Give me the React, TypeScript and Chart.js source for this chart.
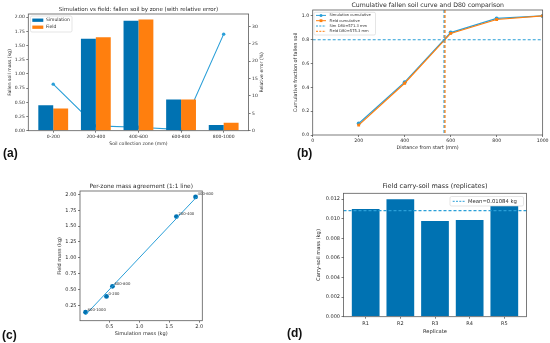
import { useEffect, useRef } from "react";
import { Chart, registerables } from "chart.js";

Chart.register(...registerables);

const W = 550;
const H = 343;
const FAMILY = "'DejaVu Sans', 'Liberation Sans', sans-serif";
const TEXT = "#2b2b2b";
const AXIS = "#5a5a5a";
const BAR_BLUE = "#0072B2";
const ORANGE = "#FF7F0E";
const LINE_BLUE = "#2A9FD8";

// ---------- (a) fallen soil by zone ----------
const zones = ["0-200", "200-400", "400-600", "600-800", "800-1000"];
const simMass = [0.45, 1.62, 1.94, 0.55, 0.1];
const fieldMass = [0.39, 1.65, 1.96, 0.55, 0.14];
const relErrorPct = [13.4, 1.4, 1.0, 0.3, 27.8];
const aMassTicks = [0, 0.25, 0.5, 0.75, 1.0, 1.25, 1.5, 1.75, 2.0];
const aErrTicks = [0, 5, 10, 15, 20, 25, 30];
const aLegend = ["Simulation", "Field"];

// ---------- (b) cumulative curve ----------
const distanceMm = [200, 400, 600, 800, 1000];
const simCumulative = [0.097, 0.444, 0.86, 0.979, 1.0];
const fieldCumulative = [0.083, 0.435, 0.853, 0.97, 1.0];
const simD80 = 571.3;
const fieldD80 = 575.3;
const d80Level = 0.8;
const bXTicks = [0, 200, 400, 600, 800, 1000];
const bYTicks = [0, 0.2, 0.4, 0.6, 0.8, 1.0];
const bLegend = ["Simulation cumulative", "Field cumulative", "Sim D80=571.3 mm", "Field D80=575.3 mm"];

// ---------- (c) 1:1 agreement ----------
const oneToOne = [0.1, 1.96];
const cXTicks = [0.5, 1.0, 1.5, 2.0];
const cYTicks = [0.25, 0.5, 0.75, 1.0, 1.25, 1.5, 1.75, 2.0];

// ---------- (d) replicates ----------
const replicates = ["R1", "R2", "R3", "R4", "R5"];
const carryMass = [0.011, 0.012, 0.00978, 0.00988, 0.01132];
const carryMean = 0.01084;
const dYTicks = [0, 0.002, 0.004, 0.006, 0.008, 0.01, 0.012];
const dLegend = ["Mean=0.01084 kg"];

type Area = { l: number; t: number; r: number; b: number };

function layoutPadding(a: Area, yW: number, xH: number, y1W = 0) {
  return { left: a.l - yW, top: a.t, right: W - a.r - y1W, bottom: H - a.b - xH };
}

function linAxis(o: {
  pos: "left" | "right" | "bottom";
  min: number;
  max: number;
  ticks: number[];
  fmt: (v: number) => string;
  size: number;
  title: string;
  titleSize: number;
  titlePad: number;
  tickSize: number;
  tickPad: number;
  showTitle?: boolean;
}) {
  const horizontal = o.pos === "bottom";
  return {
    type: "linear",
    position: o.pos,
    min: o.min,
    max: o.max,
    offset: false,
    afterBuildTicks: (s: any) => {
      s.ticks = o.ticks.map((v) => ({ value: v }));
    },
    afterFit: (s: any) => {
      if (horizontal) s.height = o.size;
      else s.width = o.size;
    },
    grid: { display: true, drawOnChartArea: false, drawTicks: true, tickLength: 2, color: AXIS, lineWidth: 0.8, offset: false },
    border: { display: false },
    ticks: {
      font: { family: FAMILY, size: o.tickSize },
      color: TEXT,
      padding: o.tickPad,
      maxRotation: 0,
      minRotation: 0,
      autoSkip: false,
      callback: (v: any) => o.fmt(Number(v)),
    },
    title: {
      display: o.showTitle !== false,
      text: o.title,
      color: TEXT,
      font: { family: FAMILY, size: o.titleSize },
      padding: { top: o.titlePad, bottom: o.titlePad },
    },
  };
}

const framePlugin = {
  id: "frame",
  afterDatasetsDraw(chart: any) {
    const { ctx, chartArea: c } = chart;
    ctx.save();
    ctx.strokeStyle = AXIS;
    ctx.lineWidth = 0.8;
    ctx.strokeRect(c.left, c.top, c.right - c.left, c.bottom - c.top);
    ctx.restore();
  },
};

function titlePlugin(text: string, size: number, y: number) {
  return {
    id: "ptitle",
    afterDraw(chart: any) {
      const { ctx, chartArea: c } = chart;
      ctx.save();
      ctx.font = `${size}px ${FAMILY}`;
      ctx.fillStyle = TEXT;
      ctx.textAlign = "center";
      ctx.textBaseline = "middle";
      ctx.fillText(text, (c.left + c.right) / 2, y);
      ctx.restore();
    },
  };
}

function rightTitlePlugin(text: string, size: number, x: number) {
  return {
    id: "rtitle",
    afterDraw(chart: any) {
      const { ctx, chartArea: c } = chart;
      ctx.save();
      ctx.translate(x, (c.top + c.bottom) / 2);
      ctx.rotate(-Math.PI / 2);
      ctx.font = `${size}px ${FAMILY}`;
      ctx.fillStyle = TEXT;
      ctx.textAlign = "center";
      ctx.textBaseline = "middle";
      ctx.fillText(text, 0, 0);
      ctx.restore();
    },
  };
}

type LegendItem = { label: string; kind: "patch" | "line" | "dash"; color: string; marker?: "circle" | "rect" };
type LegendBox = { x: number; y: number; w: number; h: number; rowY: number[]; sx: number; sw: number; sh: number; tx: number; font: number };

function legendPlugin(box: LegendBox, items: LegendItem[]) {
  return {
    id: "plegend",
    afterDraw(chart: any) {
      const ctx = chart.ctx;
      ctx.save();
      ctx.beginPath();
      if (ctx.roundRect) ctx.roundRect(box.x, box.y, box.w, box.h, 1.5);
      else ctx.rect(box.x, box.y, box.w, box.h);
      ctx.fillStyle = "rgba(255,255,255,0.85)";
      ctx.fill();
      ctx.strokeStyle = "#d4d4d4";
      ctx.lineWidth = 0.6;
      ctx.stroke();
      items.forEach((it, i) => {
        const cy = box.rowY[i];
        if (it.kind === "patch") {
          ctx.fillStyle = it.color;
          ctx.fillRect(box.sx, cy - box.sh / 2, box.sw, box.sh);
        } else {
          ctx.strokeStyle = it.color;
          ctx.lineWidth = 1;
          ctx.setLineDash(it.kind === "dash" ? [2, 1.3] : []);
          ctx.beginPath();
          ctx.moveTo(box.sx, cy);
          ctx.lineTo(box.sx + box.sw, cy);
          ctx.stroke();
          ctx.setLineDash([]);
          if (it.marker) {
            ctx.fillStyle = it.color;
            const mx = box.sx + box.sw / 2;
            if (it.marker === "circle") {
              ctx.beginPath();
              ctx.arc(mx, cy, 1.5, 0, Math.PI * 2);
              ctx.fill();
            } else {
              ctx.fillRect(mx - 1.4, cy - 1.4, 2.8, 2.8);
            }
          }
        }
        ctx.fillStyle = TEXT;
        ctx.font = `${box.font}px ${FAMILY}`;
        ctx.textAlign = "left";
        ctx.textBaseline = "middle";
        ctx.fillText(it.label, box.tx, cy);
      });
      ctx.restore();
    },
  };
}

function dashedLine(chart: any, axis: "x" | "y", value: number, color: string) {
  const { ctx, chartArea: c } = chart;
  ctx.save();
  ctx.strokeStyle = color;
  ctx.lineWidth = 1.2;
  ctx.setLineDash([3, 2]);
  ctx.beginPath();
  if (axis === "x") {
    const x = chart.scales.x.getPixelForValue(value);
    ctx.moveTo(x, c.top);
    ctx.lineTo(x, c.bottom);
  } else {
    const y = chart.scales.y.getPixelForValue(value);
    ctx.moveTo(c.left, y);
    ctx.lineTo(c.right, y);
  }
  ctx.stroke();
  ctx.restore();
}

function configA(): any {
  const area: Area = { l: 28.3, t: 14, r: 248.6, b: 130.7 };
  return {
    type: "bar",
    data: {
      datasets: [
        {
          type: "bar",
          label: aLegend[0],
          data: simMass.map((v, i) => ({ x: i, y: v })),
          backgroundColor: BAR_BLUE,
          borderWidth: 0,
          categoryPercentage: 0.7,
          barPercentage: 1.0,
          yAxisID: "y",
          order: 1,
        },
        {
          type: "bar",
          label: aLegend[1],
          data: fieldMass.map((v, i) => ({ x: i, y: v })),
          backgroundColor: ORANGE,
          borderWidth: 0,
          categoryPercentage: 0.7,
          barPercentage: 1.0,
          yAxisID: "y",
          order: 1,
        },
        {
          type: "line",
          label: "Relative error",
          data: relErrorPct.map((v, i) => ({ x: i, y: v })),
          borderColor: LINE_BLUE,
          backgroundColor: LINE_BLUE,
          borderWidth: 1.1,
          pointRadius: 1.7,
          pointBorderWidth: 0,
          pointBackgroundColor: LINE_BLUE,
          yAxisID: "y1",
          order: 2,
        },
      ],
    },
    options: {
      responsive: false,
      animation: false,
      devicePixelRatio: 1,
      layout: { padding: layoutPadding(area, 26, 16, 16) },
      plugins: { legend: { display: false }, tooltip: { enabled: false }, title: { display: false } },
      scales: {
        x: linAxis({ pos: "bottom", min: -0.585, max: 4.585, ticks: [0, 1, 2, 3, 4], fmt: (v) => zones[v] ?? "", size: 16, title: "Soil collection zone (mm)", titleSize: 4.6, titlePad: 0.4, tickSize: 4.5, tickPad: 1.5 }),
        y: linAxis({ pos: "left", min: 0, max: 2.058, ticks: aMassTicks, fmt: (v) => v.toFixed(2), size: 26, title: "Fallen soil mass (kg)", titleSize: 4.6, titlePad: 5, tickSize: 4.5, tickPad: 1.5 }),
        y1: linAxis({ pos: "right", min: 0, max: 33.6, ticks: aErrTicks, fmt: (v) => String(v), size: 16, title: "Relative error (%)", titleSize: 4.6, titlePad: 0.2, tickSize: 4.5, tickPad: 1.5, showTitle: false }),
      },
    },
    plugins: [
      framePlugin,
      titlePlugin("Simulation vs field: fallen soil by zone (with relative error)", 5.5, 9.5),
      rightTitlePlugin("Relative error (%)", 4.6, 261.5),
      legendPlugin(
        { x: 30.5, y: 16, w: 41.5, h: 16, rowY: [20.2, 27.2], sx: 32.3, sw: 11, sh: 3.3, tx: 46, font: 4.5 },
        [
          { label: aLegend[0], kind: "patch", color: BAR_BLUE },
          { label: aLegend[1], kind: "patch", color: ORANGE },
        ]
      ),
    ],
  };
}

function configB(): any {
  const area: Area = { l: 312.7, t: 10, r: 543, b: 135 };
  return {
    type: "scatter",
    data: {
      datasets: [
        {
          label: bLegend[0],
          data: distanceMm.map((d, i) => ({ x: d, y: simCumulative[i] })),
          showLine: true,
          borderColor: LINE_BLUE,
          backgroundColor: LINE_BLUE,
          borderWidth: 1.2,
          pointRadius: 2,
          pointBorderWidth: 0,
          pointStyle: "circle",
          order: 2,
        },
        {
          label: bLegend[1],
          data: distanceMm.map((d, i) => ({ x: d, y: fieldCumulative[i] })),
          showLine: true,
          borderColor: ORANGE,
          backgroundColor: ORANGE,
          borderWidth: 1.2,
          pointRadius: 2,
          pointBorderWidth: 0,
          pointStyle: "rect",
          order: 1,
        },
      ],
    },
    options: {
      responsive: false,
      animation: false,
      devicePixelRatio: 1,
      layout: { padding: layoutPadding(area, 20, 16) },
      plugins: { legend: { display: false }, tooltip: { enabled: false }, title: { display: false } },
      scales: {
        x: linAxis({ pos: "bottom", min: 0, max: 1000, ticks: bXTicks, fmt: (v) => String(v), size: 16, title: "Distance from start (mm)", titleSize: 4.9, titlePad: 0.8, tickSize: 4.7, tickPad: 1.4 }),
        y: linAxis({ pos: "left", min: 0, max: 1.05, ticks: bYTicks, fmt: (v) => v.toFixed(1), size: 20, title: "Cumulative fraction of fallen soil", titleSize: 4.9, titlePad: 0, tickSize: 4.7, tickPad: 1.5 }),
      },
    },
    plugins: [
      {
        id: "d80",
        afterDatasetsDraw(chart: any) {
          dashedLine(chart, "x", simD80, LINE_BLUE);
          dashedLine(chart, "x", fieldD80, ORANGE);
          dashedLine(chart, "y", d80Level, LINE_BLUE);
        },
      },
      framePlugin,
      titlePlugin("Cumulative fallen soil curve and D80 comparison", 6.2, 5.5),
      legendPlugin(
        { x: 314, y: 12.3, w: 61.5, h: 22.7, rowY: [15.4, 20.7, 26, 31.3], sx: 316, sw: 10, sh: 3, tx: 329.5, font: 3.7 },
        [
          { label: bLegend[0], kind: "line", color: LINE_BLUE, marker: "circle" },
          { label: bLegend[1], kind: "line", color: ORANGE, marker: "rect" },
          { label: bLegend[2], kind: "dash", color: LINE_BLUE },
          { label: bLegend[3], kind: "dash", color: ORANGE },
        ]
      ),
    ],
  };
}

function configC(): any {
  const area: Area = { l: 80, t: 191, r: 202.3, b: 320.7 };
  return {
    type: "scatter",
    data: {
      datasets: [
        {
          label: "1:1",
          data: oneToOne.map((v) => ({ x: v, y: v })),
          showLine: true,
          borderColor: LINE_BLUE,
          borderWidth: 1,
          pointRadius: 0,
          order: 1,
        },
        {
          label: "zones",
          data: simMass.map((s, i) => ({ x: s, y: fieldMass[i] })),
          backgroundColor: BAR_BLUE,
          borderColor: BAR_BLUE,
          pointRadius: 2.4,
          pointBorderWidth: 0,
          order: 2,
        },
      ],
    },
    options: {
      responsive: false,
      animation: false,
      devicePixelRatio: 1,
      layout: { padding: layoutPadding(area, 24, 17) },
      plugins: { legend: { display: false }, tooltip: { enabled: false }, title: { display: false } },
      scales: {
        x: linAxis({ pos: "bottom", min: 0.007, max: 2.053, ticks: cXTicks, fmt: (v) => v.toFixed(1), size: 17, title: "Simulation mass (kg)", titleSize: 5, titlePad: 0.8, tickSize: 5, tickPad: 0.8 }),
        y: linAxis({ pos: "left", min: 0.007, max: 2.053, ticks: cYTicks, fmt: (v) => v.toFixed(2), size: 24, title: "Field mass (kg)", titleSize: 5, titlePad: 1, tickSize: 5, tickPad: 1.5 }),
      },
    },
    plugins: [
      {
        id: "pointLabels",
        afterDatasetsDraw(chart: any) {
          const meta = chart.getDatasetMeta(1);
          const ctx = chart.ctx;
          ctx.save();
          ctx.font = `3.8px ${FAMILY}`;
          ctx.fillStyle = TEXT;
          ctx.textAlign = "left";
          ctx.textBaseline = "middle";
          meta.data.forEach((pt: any, i: number) => {
            ctx.fillText(zones[i], pt.x + 2, pt.y - 2.5);
          });
          ctx.restore();
        },
      },
      framePlugin,
      titlePlugin("Per-zone mass agreement (1:1 line)", 5.8, 186),
    ],
  };
}

function configD(): any {
  const area: Area = { l: 343.5, t: 193.3, r: 526.5, b: 316.7 };
  return {
    type: "bar",
    data: {
      datasets: [
        {
          label: "Field carry-soil mass",
          data: carryMass.map((v, i) => ({ x: i, y: v })),
          backgroundColor: BAR_BLUE,
          borderWidth: 0,
          categoryPercentage: 0.8,
          barPercentage: 1.0,
        },
      ],
    },
    options: {
      responsive: false,
      animation: false,
      devicePixelRatio: 1,
      layout: { padding: layoutPadding(area, 28, 18) },
      plugins: { legend: { display: false }, tooltip: { enabled: false }, title: { display: false } },
      scales: {
        x: linAxis({ pos: "bottom", min: -0.64, max: 4.64, ticks: [0, 1, 2, 3, 4], fmt: (v) => replicates[v] ?? "", size: 18, title: "Replicate", titleSize: 5.2, titlePad: 0, tickSize: 5, tickPad: 2.5 }),
        y: linAxis({ pos: "left", min: 0, max: 0.0126, ticks: dYTicks, fmt: (v) => v.toFixed(3), size: 28, title: "Carry-soil mass (kg)", titleSize: 5.2, titlePad: 0, tickSize: 5, tickPad: 1.5 }),
      },
    },
    plugins: [
      {
        id: "mean",
        afterDatasetsDraw(chart: any) {
          dashedLine(chart, "y", carryMean, LINE_BLUE);
        },
      },
      framePlugin,
      titlePlugin("Field carry-soil mass (replicates)", 6.5, 186.7),
      legendPlugin(
        { x: 450, y: 196.5, w: 73.5, h: 9.5, rowY: [201.3], sx: 452.7, sw: 13, sh: 3, tx: 468, font: 5.3 },
        [{ label: dLegend[0], kind: "dash", color: LINE_BLUE }]
      ),
    ],
  };
}

const panelLabels = [
  { text: "(a)", x: 3, y: 147 },
  { text: "(b)", x: 297, y: 147 },
  { text: "(c)", x: 2, y: 329 },
  { text: "(d)", x: 287, y: 327 },
];

export default function App() {
  const r0 = useRef<HTMLCanvasElement>(null);
  const r1 = useRef<HTMLCanvasElement>(null);
  const r2 = useRef<HTMLCanvasElement>(null);
  const r3 = useRef<HTMLCanvasElement>(null);

  useEffect(() => {
    const refs = [r0, r1, r2, r3];
    const makers = [configA, configB, configC, configD];
    const charts = refs.map((r, i) => new Chart(r.current as HTMLCanvasElement, makers[i]()));
    return () => charts.forEach((c) => c.destroy());
  }, []);

  const canvasStyle: any = { position: "absolute", left: 0, top: 0, width: W, height: H };
  return (
    <div style={{ position: "fixed", left: 0, top: 0, width: W, height: H, background: "#fff", overflow: "hidden" }}>
      <canvas ref={r0} width={W} height={H} style={canvasStyle} />
      <canvas ref={r1} width={W} height={H} style={canvasStyle} />
      <canvas ref={r2} width={W} height={H} style={canvasStyle} />
      <canvas ref={r3} width={W} height={H} style={canvasStyle} />
      {panelLabels.map((p) => (
        <div
          key={p.text}
          style={{
            position: "absolute",
            left: p.x,
            top: p.y,
            fontFamily: "'Liberation Sans', Arial, sans-serif",
            fontWeight: "bold",
            fontSize: 12,
            lineHeight: "13px",
            color: "#111",
          }}
        >
          {p.text}
        </div>
      ))}
    </div>
  );
}
